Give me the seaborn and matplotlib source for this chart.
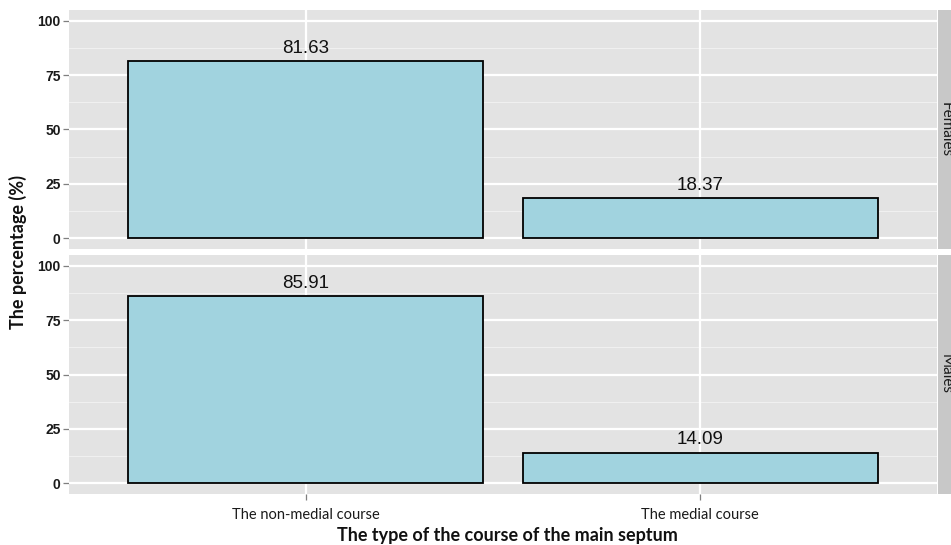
import matplotlib
matplotlib.use("Agg")
import matplotlib.pyplot as plt
import seaborn as sns
import pandas as pd
import numpy as np

categories = ["The non-medial course", "The medial course"]
panels = ["Females", "Males"]
females_values = [81.63, 18.37]
males_values = [85.91, 14.09]
y_ticks = [0, 25, 50, 75, 100]
x_title = "The type of the course of the main septum"
y_title = "The percentage (%)"

sns.set_theme(style="white")
plt.rcParams['font.family'] = ['Liberation Sans', 'DejaVu Sans']

W, H = 951, 545
fig = plt.figure(figsize=(W / 100, H / 100), dpi=100)

panel_bg = "#E3E3E3"
bar_fill = "#A1D3DF"
strip_bg = "#C8C8C8"

def fx(px):
    return px / W

def fy(py):
    return 1 - py / H

left_px, right_px = 69, 937
panel_rows = [(10, 249), (255, 494)]
values_list = [females_values, males_values]

axes = []
for i, ((top, bot), vals, name) in enumerate(zip(panel_rows, values_list, panels)):
    ax = fig.add_axes([fx(left_px), fy(bot), fx(right_px - left_px), (bot - top) / H])
    df = pd.DataFrame({"category": categories, "value": vals})
    sns.barplot(data=df, x="category", y="value", order=categories, ax=ax,
                color=bar_fill, saturation=1, edgecolor="black", linewidth=1.3,
                width=0.9, zorder=3)
    ax.set_facecolor(panel_bg)
    ax.set_ylim(-5, 105)
    ax.set_xlim(-0.6, 1.6)
    # grid
    for m in [12.5, 37.5, 62.5, 87.5]:
        ax.axhline(m, color="#F0F0F0", lw=0.8, zorder=1)
    for t in y_ticks:
        ax.axhline(t, color="white", lw=1.6, zorder=1.5)
    for xpos in [0, 1]:
        ax.axvline(xpos, color="white", lw=1.6, zorder=1.5)
    for s in ax.spines.values():
        s.set_visible(False)
    ax.set_yticks(y_ticks)
    ax.set_yticklabels([str(t) for t in y_ticks], fontweight="bold", fontsize=10,
                       color="#1a1a1a")
    ax.tick_params(axis="y", length=4, width=0.9, color="#7f7f7f", pad=2, left=True)
    ax.set_xlabel("")
    ax.set_ylabel("")
    for c in ax.containers:
        ax.bar_label(c, fmt="%.2f", padding=3, fontsize=13.5, color="#111111")
    if i == 0:
        ax.set_xticks([])
    else:
        ax.set_xticks([0, 1])
        ax.set_xticklabels(categories, fontsize=10.5, family=["Lato", "DejaVu Sans"],
                           color="#1a1a1a")
        ax.tick_params(axis="x", length=4, width=0.9, color="#7f7f7f", pad=6, bottom=True)
    # strip
    sax = fig.add_axes([fx(right_px + 1), fy(bot), fx(30), (bot - top) / H])
    sax.set_facecolor(strip_bg)
    sax.set_xticks([])
    sax.set_yticks([])
    for s in sax.spines.values():
        s.set_visible(False)
    fig.text(fx(946), fy((top + bot) / 2), name, rotation=-90, ha="center", va="center",
             fontsize=11, family=["Lato", "DejaVu Sans"], color="#1a1a1a")
    axes.append(ax)

fig.text(fx(18), fy(252), y_title, rotation=90, ha="center", va="center",
         fontsize=13, fontweight="bold", family=["Lato", "DejaVu Sans"], color="#111111")
fig.text(fx(507), fy(536), x_title, ha="center", va="center",
         fontsize=13, fontweight="bold", family=["Lato", "DejaVu Sans"], color="#111111")

fig.savefig("out.png", dpi=100)
